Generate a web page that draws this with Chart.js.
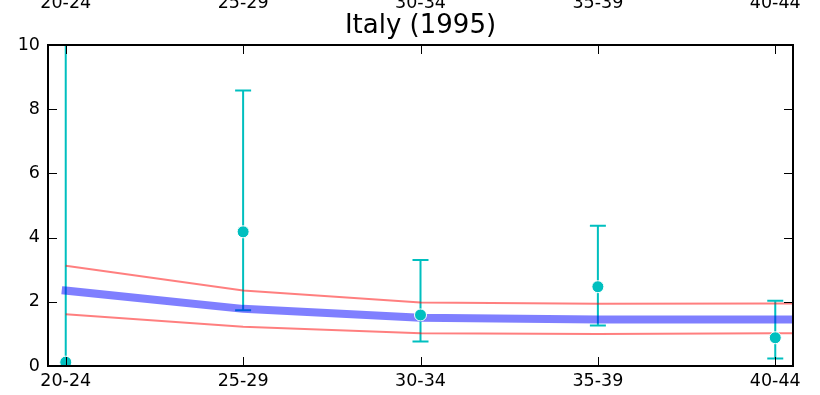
<!DOCTYPE html>
<html>
<head>
<meta charset="utf-8">
<script src="https://cdn.jsdelivr.net/npm/chart.js@4.4.0/dist/chart.umd.min.js"></script>
<style>
  html, body { margin: 0; padding: 0; background: #fff; }
  #wrap { width: 820px; height: 395px; }
</style>
</head>
<body>
<div id="wrap"><canvas id="grafico"></canvas></div>
<script>
// Grupos de edad (el ultimo queda fuera del area, solo prolonga las curvas)
var edades = ["20-24", "25-29", "30-34", "35-39", "40-44", "45-49"];

// Valores observados y sus barras de error
var observado = [0.12, 4.18, 1.59, 2.47, 0.88];
var errInf = [-9.9, 1.74, 0.76, 1.26, 0.23];
var errSup = [10.1, 8.58, 3.3, 4.37, 2.03];

// Curva ajustada y banda
var ajuste = [2.35, 1.78, 1.5, 1.45, 1.45, 1.45];
var bandaSup = [3.12, 2.35, 1.98, 1.94, 1.95, 1.95];
var bandaInf = [1.61, 1.22, 1.02, 1.0, 1.02, 1.02];

var marcasY = [0, 2, 4, 6, 8, 10];
var titulo = "Italy (1995)";

var CIAN = "#00BFBF";
var FUENTE = "'DejaVu Sans', sans-serif";

function puntos(valores) {
  return valores.map(function (v, i) { return { x: i, y: v }; });
}

function marcasEdad(scale) {
  scale.ticks = edades.slice(0, 5).map(function (e, i) { return { value: i }; });
}

// Sin relleno extra por las etiquetas de los extremos
function ajusteX(alto) {
  return function (s) {
    s.height = alto;
    s.paddingLeft = 0;
    s.paddingRight = 0;
  };
}

// Barras de error, dibujadas debajo de las lineas
var barrasError = {
  id: "barrasError",
  beforeDatasetsDraw: function (chart) {
    var ctx = chart.ctx, x = chart.scales.x, y = chart.scales.y, a = chart.chartArea;
    ctx.save();
    ctx.beginPath();
    ctx.rect(a.left, a.top, a.right - a.left, a.bottom - a.top);
    ctx.clip();
    ctx.strokeStyle = CIAN;
    ctx.lineWidth = 2;
    for (var i = 0; i < observado.length; i++) {
      var px = x.getPixelForValue(i);
      var y1 = y.getPixelForValue(errInf[i]);
      var y2 = y.getPixelForValue(errSup[i]);
      ctx.beginPath();
      ctx.moveTo(px, y1); ctx.lineTo(px, y2);
      ctx.moveTo(px - 8, y1); ctx.lineTo(px + 8, y1);
      ctx.moveTo(px - 8, y2); ctx.lineTo(px + 8, y2);
      ctx.stroke();
    }
    ctx.restore();
  }
};

// Marco, marcas hacia dentro y titulo (estilo matplotlib)
var marco = {
  id: "marco",
  afterDatasetsDraw: function (chart) {
    var ctx = chart.ctx, x = chart.scales.x, y = chart.scales.y, a = chart.chartArea;
    var L = 9;
    ctx.save();
    ctx.strokeStyle = "#000";
    ctx.lineWidth = 1;
    ctx.beginPath();
    marcasY.forEach(function (v) {
      var py = Math.round(y.getPixelForValue(v)) + 0.5;
      ctx.moveTo(a.left, py); ctx.lineTo(a.left + L, py);
      ctx.moveTo(a.right, py); ctx.lineTo(a.right - L, py);
    });
    for (var i = 0; i < 5; i++) {
      var px = Math.round(x.getPixelForValue(i)) + 0.5;
      ctx.moveTo(px, a.bottom); ctx.lineTo(px, a.bottom - L);
      ctx.moveTo(px, a.top); ctx.lineTo(px, a.top + L);
    }
    ctx.stroke();
    ctx.lineWidth = 2;
    ctx.strokeRect(a.left, a.top, a.right - a.left, a.bottom - a.top);
    ctx.restore();
  },
  afterDraw: function (chart) {
    var ctx = chart.ctx, a = chart.chartArea;
    ctx.save();
    ctx.fillStyle = "#000";
    ctx.font = "26px " + FUENTE;
    ctx.textAlign = "center";
    ctx.textBaseline = "alphabetic";
    ctx.fillText(titulo, (a.left + a.right) / 2, 33);
    ctx.restore();
  }
};

var ctx = document.getElementById("grafico").getContext("2d");
var chart = new Chart(ctx, {
  type: "scatter",
  data: {
    datasets: [
      {
        label: "observado",
        data: puntos(observado),
        showLine: false,
        pointRadius: 6,
        pointHoverRadius: 6,
        pointBackgroundColor: CIAN,
        pointBorderColor: "#fff",
        pointBorderWidth: 1,
        order: 0
      },
      {
        label: "ajuste",
        data: puntos(ajuste),
        showLine: true,
        borderColor: "rgba(0,0,255,0.5)",
        borderWidth: 8,
        borderCapStyle: "square",
        pointRadius: 0,
        tension: 0,
        clip: 0,
        order: 1
      },
      {
        label: "superior",
        data: puntos(bandaSup),
        showLine: true,
        borderColor: "rgba(255,0,0,0.5)",
        borderWidth: 2,
        pointRadius: 0,
        tension: 0,
        clip: 0,
        order: 2
      },
      {
        label: "inferior",
        data: puntos(bandaInf),
        showLine: true,
        borderColor: "rgba(255,0,0,0.5)",
        borderWidth: 2,
        pointRadius: 0,
        tension: 0,
        clip: 0,
        order: 3
      }
    ]
  },
  options: {
    responsive: true,
    maintainAspectRatio: false,
    animation: false,
    layout: { padding: { left: 0, right: 27, top: 0, bottom: 0 } },
    plugins: {
      legend: { display: false },
      title: { display: false },
      tooltip: { enabled: false }
    },
    scales: {
      x: {
        type: "linear",
        position: "bottom",
        min: -0.1,
        max: 4.1,
        afterBuildTicks: marcasEdad,
        afterFit: ajusteX(29),
        grid: { drawOnChartArea: false, drawTicks: false },
        border: { display: false },
        ticks: {
          padding: 5,
          color: "#000",
          maxRotation: 0,
          autoSkip: false,
          font: { family: FUENTE, size: 17.5 },
          callback: function (v) { return edades[v]; }
        }
      },
      x2: {
        type: "linear",
        position: "top",
        min: -0.1,
        max: 4.1,
        afterBuildTicks: marcasEdad,
        afterFit: ajusteX(45),
        grid: { drawOnChartArea: false, drawTicks: false },
        border: { display: false },
        ticks: {
          padding: 31,
          color: "#000",
          maxRotation: 0,
          autoSkip: false,
          font: { family: FUENTE, size: 17.5 },
          callback: function (v) { return edades[v]; }
        }
      },
      y: {
        min: 0,
        max: 10,
        afterBuildTicks: function (s) {
          s.ticks = marcasY.map(function (v) { return { value: v }; });
        },
        afterFit: function (s) { s.width = 48; },
        grid: { drawOnChartArea: false, drawTicks: false },
        border: { display: false },
        ticks: {
          padding: 8,
          color: "#000",
          font: { family: FUENTE, size: 17.5 }
        }
      }
    }
  },
  plugins: [barrasError, marco]
});
</script>
</body>
</html>
